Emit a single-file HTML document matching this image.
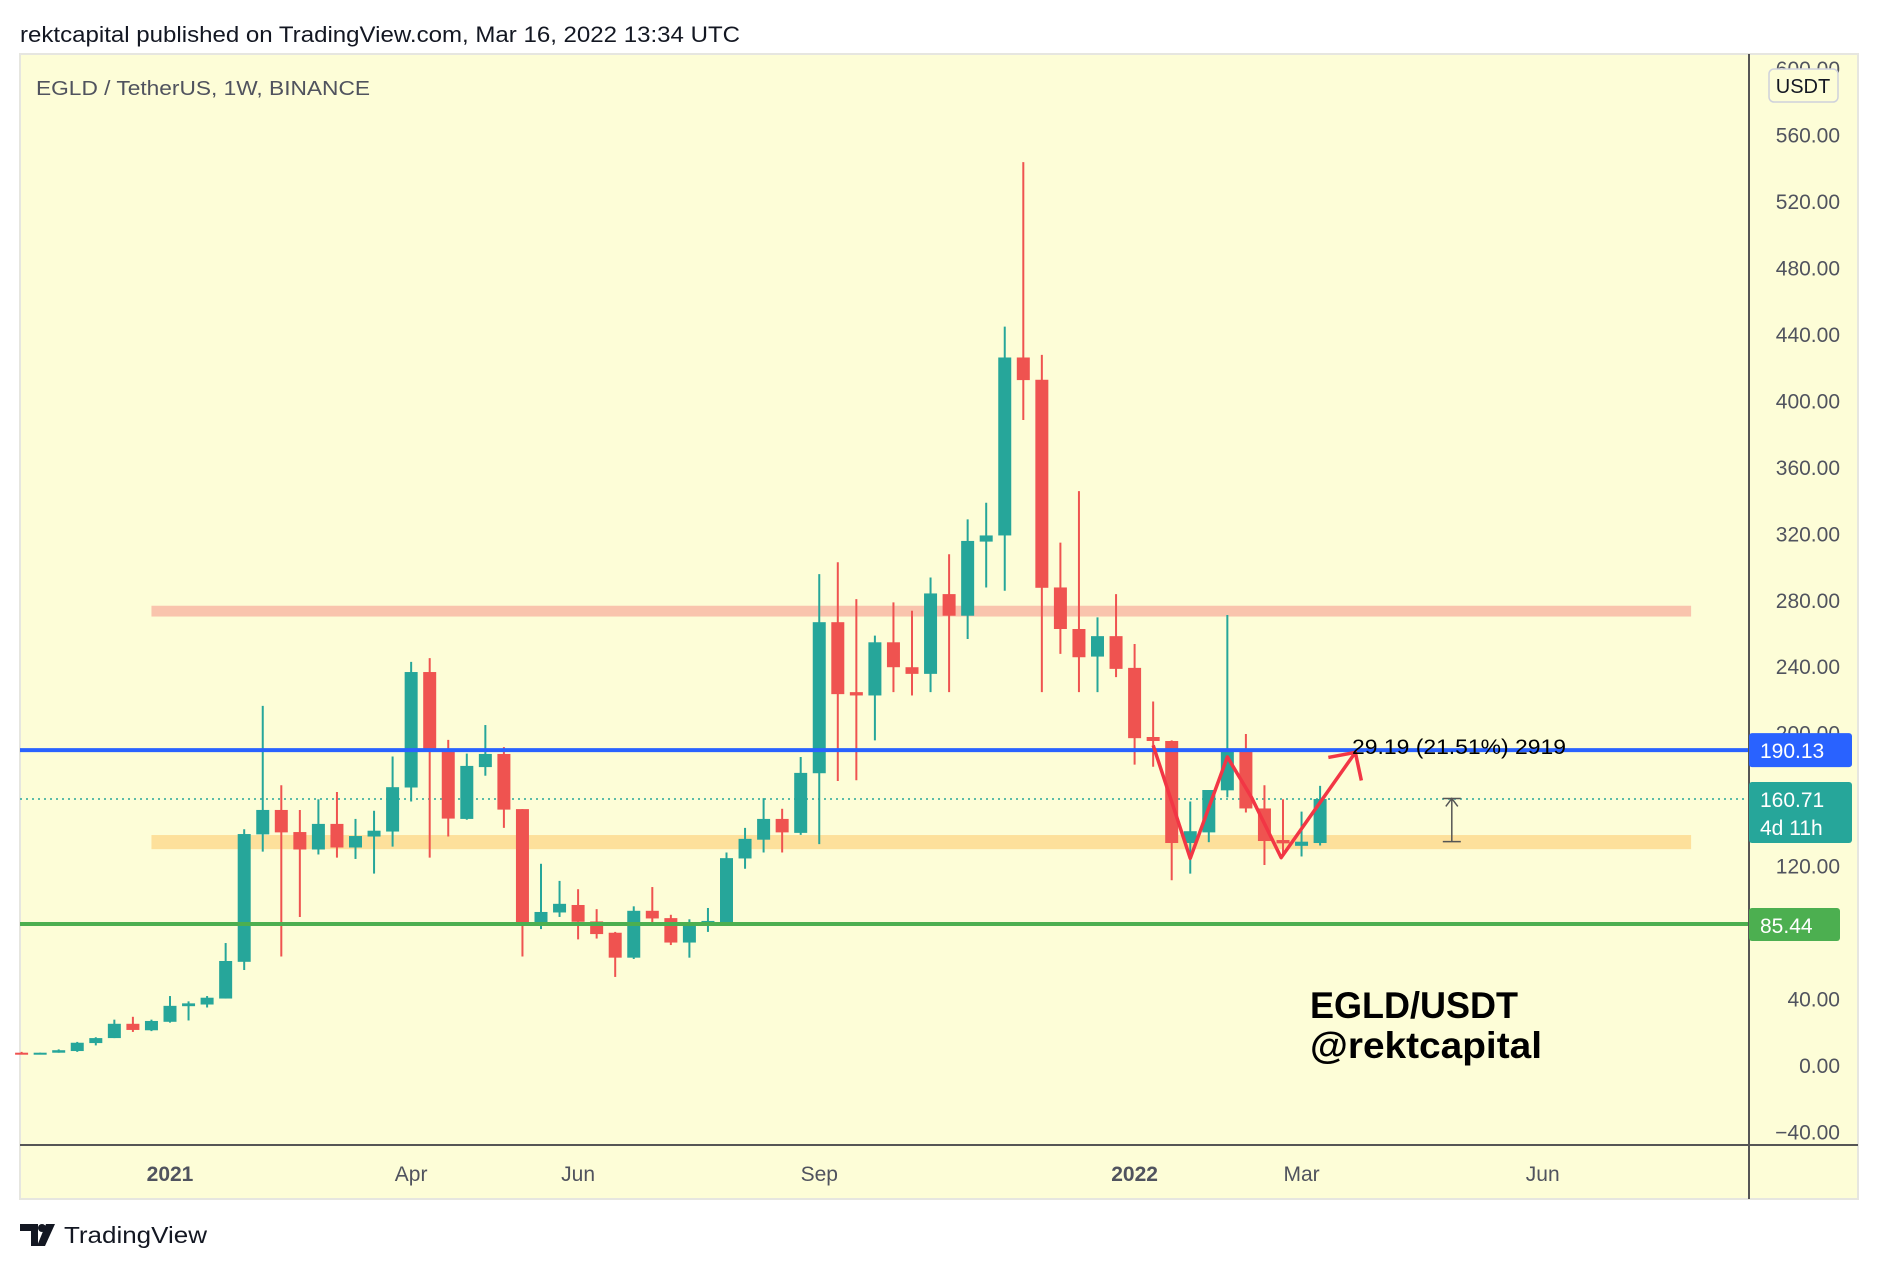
<!DOCTYPE html>
<html><head><meta charset="utf-8">
<style>
html,body{margin:0;padding:0;background:#fff;}
body{width:1880px;height:1270px;overflow:hidden;position:relative;font-family:"Liberation Sans","DejaVu Sans",sans-serif;}
svg{position:absolute;left:0;top:0;}
</style></head>
<body>
<svg id="chart" width="1880" height="1270" viewBox="0 0 1880 1270" xmlns="http://www.w3.org/2000/svg">
  <text x="20" y="42" font-size="22" fill="#131722" textLength="720" lengthAdjust="spacingAndGlyphs">rektcapital published on TradingView.com, Mar 16, 2022 13:34 UTC</text>
  <rect x="20" y="54" width="1838" height="1145" fill="#fdfdd7" stroke="#e6e6e0" stroke-width="2"/>
  <g id="plot"></g>
  <line x1="1749" y1="54" x2="1749" y2="1199" stroke="#555" stroke-width="2"/>
  <line x1="20" y1="1145" x2="1858" y2="1145" stroke="#555" stroke-width="2"/>
  <text x="36" y="95" font-size="20" fill="#50535e" textLength="334" lengthAdjust="spacingAndGlyphs">EGLD / TetherUS, 1W, BINANCE</text>
  <g id="yaxis"></g>
  <g id="xaxis"></g>
  <rect x="1769" y="69" width="69" height="33" rx="5" fill="#fdfdd7" stroke="#cfd2dc" stroke-width="1.5"/>
  <text x="1803" y="93" font-size="20" fill="#131722" text-anchor="middle">USDT</text>
  <g id="labels"></g>
  <text x="1310" y="1018" font-size="37" font-weight="bold" fill="#000" textLength="208" lengthAdjust="spacingAndGlyphs">EGLD/USDT</text>
  <text x="1310" y="1058" font-size="37" font-weight="bold" fill="#000" textLength="232" lengthAdjust="spacingAndGlyphs">@rektcapital</text>
  <g>
    <path d="M20 1224 h18 v22 h-7 v-15 h-11z M46 1224 h9 l-10 22 h-8z" fill="#131722"/>
    <circle cx="42" cy="1228" r="4" fill="#131722"/>
    <text x="64" y="1243" font-size="23" fill="#131722" textLength="143" lengthAdjust="spacingAndGlyphs">TradingView</text>
  </g>
</svg>
<script>
// ---- data ----
const weekIdx = [-8,-7,-6,-5,-4,-3,-2,-1,0,1,2,3,4,5,6,7,8,9,10,11,12,13,14,15,16,17,18,19,20,21,22,23,24,25,26,27,28,29,30,31,32,33,34,35,36,37,38,39,40,41,42,43,44,45,46,47,48,49,50,51,52,53,54,55,56,57,58,59,60,61,62];
const opens  = [8,7,8,9,13.8,16.8,25.4,21.5,26.6,36,37,40.6,62.7,139.4,154.1,140.8,130.3,145.7,131.5,138.1,141.1,167.6,237.1,190.4,148.7,179.9,187.8,154.6,85.1,92.4,96.9,87,80.2,65.2,93.4,89,74.3,84.9,86.6,124.9,136.2,148.7,140.3,176.2,267.1,225,223,255,240,236,284,271,315.6,319.3,426.4,413,288,263,246.4,258.7,239.6,198,195.6,134.2,140.6,165.9,189.7,155,136,132.5,134.2];
const highs  = [8.5,8,10,14.5,17.3,27.9,29.6,27.9,42.1,38.9,42.1,74,142.5,216.7,169,154.1,160.5,164.9,148.7,153.6,186.3,243.2,245.5,196.3,188,205.2,191.9,154.6,121.7,111.4,106.4,94.4,80.7,96.1,107.7,91,88.3,95.1,128.5,143.3,161.2,154.8,186,296,303.2,281,259,279,274,294,308,329,339,445,544,428,315,346,270,284,254,219.4,196,159.2,166.1,271.4,199.8,169,160.5,153.1,168.6];
const lows   = [7,7,8,8.5,12.4,16.8,20.5,21,26.1,27.4,35.2,40.6,57.8,129,65.9,89.7,127.3,125.4,124.6,115.8,132,159.2,125.4,138.1,148.2,174.7,143.3,65.9,82.4,89.7,76.2,76.7,53.6,64.4,85.1,72.8,65.2,80.7,86.1,118.7,128.5,128.5,139.1,133.5,171.5,172,196,225,223,225,225,257,288,286,388.8,225,248,225,225,234,181.4,180.1,111.8,115.8,134.7,161.7,152.6,121,127.8,126.1,132.7];
const closes = [7,8,9.5,14,16.8,25.4,21.7,27.1,36.2,37.7,41.1,63.2,139.6,154.1,140.6,130.3,145.7,131.5,138.4,141.6,167.8,237.1,190,148.9,180.6,187.8,154.3,85.1,92.7,97.6,86.8,79.4,65.2,93.4,88.8,74.3,85.1,87.3,125.1,136.7,148.7,140.6,176.4,267.1,223.8,223,255,240,236,284.4,271,316,319.3,426.4,412.8,287.8,263,246,258.7,239,197.3,195.6,134.2,141.3,166.1,189.7,155,135.4,134,135,160.7];
const yTicks = [600,560,520,480,440,400,360,320,280,240,200,160,120,80,40,0,-40];
const xTickLabels = ["2021","Apr","Jun","Sep","2022","Mar","Jun"];
const xTickWeeks = [0,13,22,35,52,61,74];
const xTickBold = [true,false,false,false,true,false,false];
const resistanceZone = [270.5, 277];
const supportZone = [130.5, 139];
const zoneWeeks = [-1, 82];
const blueLevel = 190.13, greenLevel = 85.44, lastPrice = 160.71;
const zigWeeks = [53, 55, 57, 58.3, 59.9, 63.9];
const zigPrices = [193, 125, 186, 161.7, 125.4, 188.7];
const measureWeeks = 69.1, measureFrom = 135, measureTo = 161;

// ---- axes ----
const X = i => 170 + 18.55 * i;
const Y = p => 1066 - p * 1.6616;
const NS = "http://www.w3.org/2000/svg";
function mk(parent, tag, attrs){ const e=document.createElementNS(NS,tag); for(const k in attrs) e.setAttribute(k,attrs[k]); parent.appendChild(e); return e; }
const plot=document.getElementById('plot');

let z1=mk(plot,'rect',{x:X(zoneWeeks[0]),y:Y(resistanceZone[1]),width:X(zoneWeeks[1])-X(zoneWeeks[0]),height:Y(resistanceZone[0])-Y(resistanceZone[1]),fill:'#f9c4ad'});


let z2=mk(plot,'rect',{x:X(zoneWeeks[0]),y:Y(supportZone[1]),width:X(zoneWeeks[1])-X(zoneWeeks[0]),height:Y(supportZone[0])-Y(supportZone[1]),fill:'#fde09b'});



let dl=mk(plot,'line',{x1:20,x2:1749,y1:Y(lastPrice),y2:Y(lastPrice),stroke:'#26a69a','stroke-width':1.5,'stroke-dasharray':'2 4'});



for(let k=0;k<weekIdx.length;k++){
  const up = closes[k]>=opens[k];
  const col = up?'#26a69a':'#ef5350';
  const g=mk(plot,'g',{});
  
  
  const cx=X(weekIdx[k]);
  mk(g,'line',{x1:cx,x2:cx,y1:Y(highs[k]),y2:Y(lows[k]),stroke:col,'stroke-width':2});
  const top=Y(Math.max(opens[k],closes[k])), bot=Y(Math.min(opens[k],closes[k]));
  mk(g,'rect',{x:cx-6.5,y:top,width:13,height:Math.max(2,bot-top),fill:col});
}

let bl=mk(plot,'line',{x1:20,x2:1749,y1:Y(blueLevel),y2:Y(blueLevel),stroke:'#2962ff','stroke-width':4});


let gl=mk(plot,'line',{x1:20,x2:1749,y1:Y(greenLevel),y2:Y(greenLevel),stroke:'#4caf50','stroke-width':4});



const pts=zigWeeks.map((w,j)=>X(w)+','+Y(zigPrices[j])).join(' ');
let zz=mk(plot,'polyline',{points:pts,fill:'none',stroke:'#f23645','stroke-width':3.5,'stroke-linejoin':'round'});


const tx=X(zigWeeks[5]), ty=Y(zigPrices[5]);
let ah=mk(plot,'polyline',{points:(tx-27)+','+(ty+5)+' '+tx+','+ty+' '+(tx+6)+','+(ty+28),fill:'none',stroke:'#f23645','stroke-width':3.5});


let mt=mk(plot,'text',{x:1352,y:754,'font-size':21,fill:'#000',textLength:214,lengthAdjust:'spacingAndGlyphs'});
mt.textContent='29.19 (21.51%) 2919';



const mx=X(measureWeeks);
let mg=mk(plot,'g',{stroke:'#555','stroke-width':1.5,fill:'none'});


mk(mg,'line',{x1:mx,x2:mx,y1:Y(measureTo),y2:Y(measureFrom)});
mk(mg,'line',{x1:mx-9,x2:mx+9,y1:Y(measureTo),y2:Y(measureTo)});
mk(mg,'line',{x1:mx-9,x2:mx+9,y1:Y(measureFrom),y2:Y(measureFrom)});
mk(mg,'polyline',{points:(mx-6)+','+(Y(measureTo)+8)+' '+mx+','+Y(measureTo)+' '+(mx+6)+','+(Y(measureTo)+8)});

const ya=document.getElementById('yaxis');
yTicks.forEach(v=>{
  const t=mk(ya,'text',{x:1840,y:Y(v)+7,'font-size':21,fill:'#50535e','text-anchor':'end'});
  t.textContent=v.toFixed(2).replace('-','\u2212');
  
  
});
const xa=document.getElementById('xaxis');
xTickLabels.forEach((s,j)=>{
  const t=mk(xa,'text',{x:X(xTickWeeks[j]),y:1181,'font-size':21,fill:'#50535e','text-anchor':'middle','font-weight':xTickBold[j]?'bold':'normal'});
  t.textContent=s;
  
  
});

const lb=document.getElementById('labels');
function badge(name,y1,y2,w,col,lines){
  const g=mk(lb,'g',{});
  
  
  mk(g,'rect',{x:1749,y:y1,width:w,height:y2-y1,rx:3,fill:col});
  lines.forEach((s,j)=>{ const t=mk(g,'text',{x:1760,y:y1+25+j*28,'font-size':21,fill:'#fff'}); t.textContent=s; });
}
badge('blue-level-label',Y(blueLevel)-17,Y(blueLevel)+17,103,'#2962ff',[blueLevel.toFixed(2)]);
badge('last-price-label',Y(lastPrice)-17,Y(lastPrice)+44,103,'#26a69a',[lastPrice.toFixed(2),'4d 11h']);
badge('green-level-label',Y(greenLevel)-16,Y(greenLevel)+17,91,'#4caf50',[greenLevel.toFixed(2)]);
</script>
</body></html>
